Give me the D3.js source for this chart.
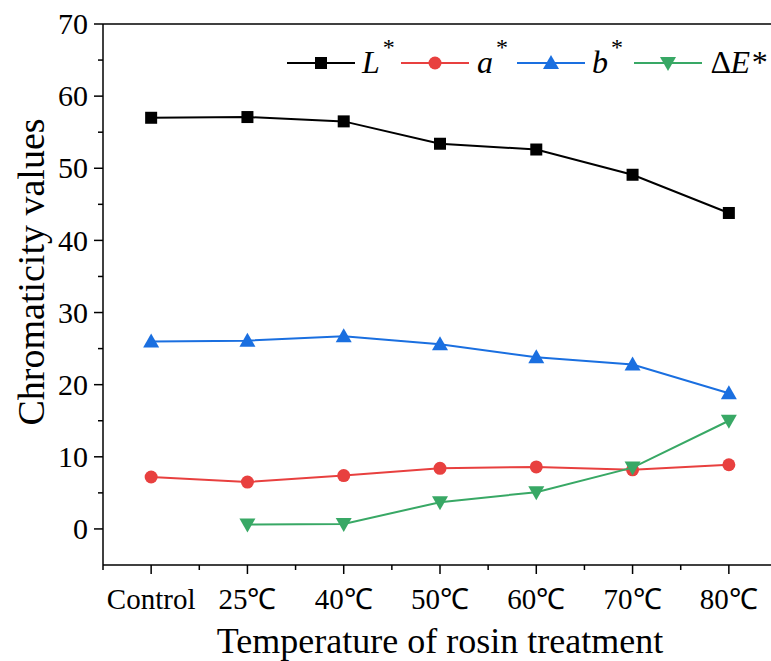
<!DOCTYPE html>
<html><head><meta charset="utf-8">
<script src="https://cdn.jsdelivr.net/npm/d3@7"></script>
<style>body{margin:0;background:#fff}svg{display:block}text{font-family:"Liberation Serif","Times New Roman",serif;fill:#000}</style>
</head><body><svg id="c" width="771" height="661"></svg>
<script>
const categories = ["Control","25\u2103","40\u2103","50\u2103","60\u2103","70\u2103","80\u2103"];
const Lstar = [57.0, 57.1, 56.5, 53.4, 52.6, 49.1, 43.8];
const astar = [7.2, 6.5, 7.4, 8.4, 8.6, 8.2, 8.9];
const bstar = [26.0, 26.1, 26.7, 25.6, 23.8, 22.8, 18.8];
const dEstar = [null, 0.6, 0.7, 3.7, 5.1, 8.5, 15.0];
const yTicks = [0,10,20,30,40,50,60,70];

const svg = d3.select("#c");
const x = d3.scaleLinear().domain([-0.5, 6.5]).range([103, 777]);
const y = d3.scaleLinear().domain([-5, 70]).range([565, 24]);

// axes
const gx = svg.append("g").attr("transform","translate(0,565)");
gx.append("line").attr("x1",103).attr("x2",777).attr("stroke","#000").attr("stroke-width",1.5);
categories.forEach((c,i)=>{
  gx.append("line").attr("x1",x(i)).attr("x2",x(i)).attr("y1",0).attr("y2",9).attr("stroke","#000").attr("stroke-width",1.5);
  gx.append("text").attr("x",x(i)).attr("y",44).attr("text-anchor","middle").attr("font-size",29).text(c);
});
for(let i=-0.5;i<=6.5;i+=1){
  gx.append("line").attr("x1",x(i)).attr("x2",x(i)).attr("y1",0).attr("y2",5).attr("stroke","#000").attr("stroke-width",1.5);
}
// top frame line
svg.append("line").attr("x1",103).attr("x2",777).attr("y1",y(70)).attr("y2",y(70)).attr("stroke","#000").attr("stroke-width",1.5);
const gy = svg.append("g").attr("transform","translate(103,0)");
gy.append("line").attr("y1",y(-5)).attr("y2",y(70)).attr("stroke","#000").attr("stroke-width",1.5);
yTicks.forEach(t=>{
  gy.append("line").attr("x1",0).attr("x2",-9).attr("y1",y(t)).attr("y2",y(t)).attr("stroke","#000").attr("stroke-width",1.5);
  gy.append("text").attr("x",-15).attr("y",y(t)).attr("dy","0.34em").attr("text-anchor","end").attr("font-size",30).text(t);
});
for(let t=5;t<70;t+=10){
  gy.append("line").attr("x1",0).attr("x2",-5).attr("y1",y(t)).attr("y2",y(t)).attr("stroke","#000").attr("stroke-width",1.5);
}
svg.append("text").attr("transform","translate(44,"+272+") rotate(-90)").attr("text-anchor","middle").attr("font-size",38).text("Chromaticity values");
svg.append("text").attr("x",440).attr("y",653).attr("text-anchor","middle").attr("font-size",36).text("Temperature of rosin treatment");

const series = [
  {name:"L", vals:Lstar, color:"#000000", shape:"square"},
  {name:"a", vals:astar, color:"#e8403f", shape:"circle"},
  {name:"b", vals:bstar, color:"#1a6fe0", shape:"up"},
  {name:"dE", vals:dEstar, color:"#38a865", shape:"down"}
];
function marker(g, shape, color, cx, cy){
  if(shape==="square") g.append("rect").attr("x",cx-6).attr("y",cy-6).attr("width",12).attr("height",12).attr("fill",color);
  else if(shape==="circle") g.append("circle").attr("cx",cx).attr("cy",cy).attr("r",6.5).attr("fill",color);
  else if(shape==="up") g.append("path").attr("d",`M${cx},${cy-8}L${cx+8},${cy+6}L${cx-8},${cy+6}Z`).attr("fill",color);
  else g.append("path").attr("d",`M${cx},${cy+8}L${cx+8},${cy-6}L${cx-8},${cy-6}Z`).attr("fill",color);
}
const line = d3.line().defined(d=>d!=null).x((d,i)=>x(i)).y(d=>y(d));
series.forEach(s=>{
  svg.append("path").datum(s.vals).attr("d",line).attr("fill","none").attr("stroke",s.color).attr("stroke-width",2);
  const g = svg.append("g");
  s.vals.forEach((v,i)=>{ if(v!=null) marker(g, s.shape, s.color, x(i), y(v)); });
});

// legend
const lg = svg.append("g");
const ly = 63;
const items = [
  {x0:287, s:series[0], label:"L", sup:true, tx:362},
  {x0:401, s:series[1], label:"a", sup:true, tx:477},
  {x0:517, s:series[2], label:"b", sup:true, tx:592},
  {x0:634, s:series[3], label:"\u2206E*", sup:false, tx:711}
];
items.forEach(it=>{
  lg.append("line").attr("x1",it.x0).attr("x2",it.x0+68).attr("y1",ly).attr("y2",ly).attr("stroke",it.s.color).attr("stroke-width",2);
  marker(lg, it.s.shape, it.s.color, it.x0+34, ly);
  const t = lg.append("text").attr("x",it.tx).attr("y",ly+10).attr("font-size",32).attr("font-style","italic");
  t.append("tspan").text(it.label);
  if(it.sup) t.append("tspan").attr("dy",-18).attr("dx",3).attr("font-size",24).attr("font-style","normal").text("*");
});
</script></body></html>
